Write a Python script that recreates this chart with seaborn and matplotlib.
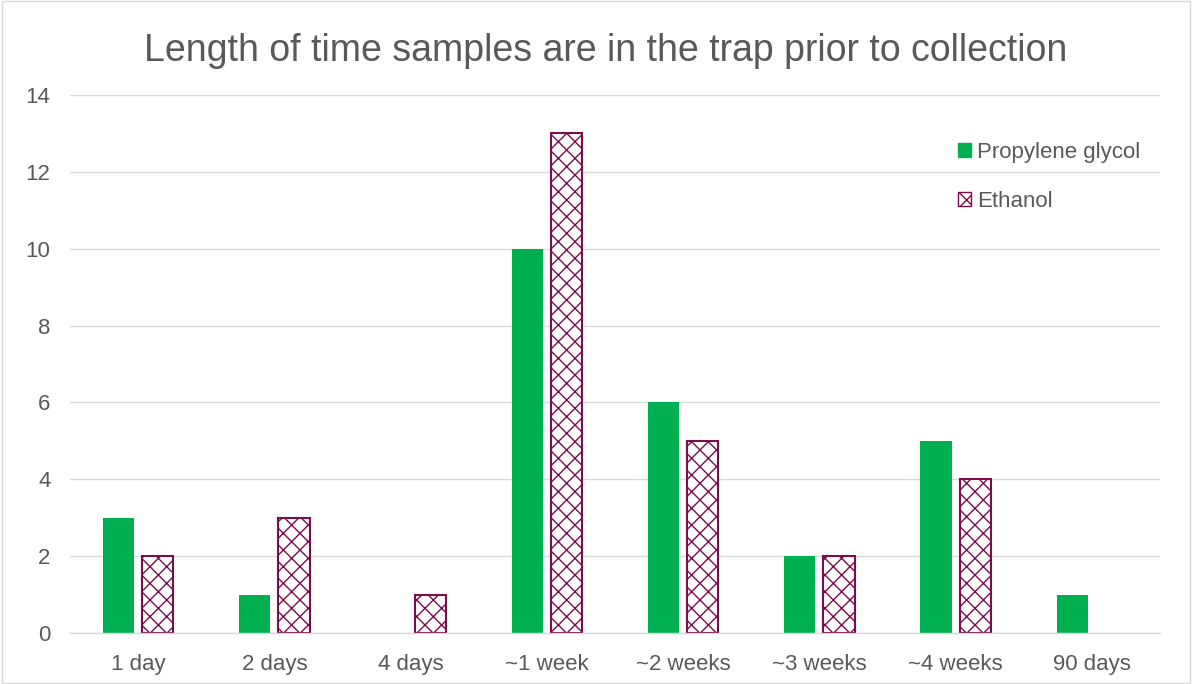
import pandas as pd
import matplotlib.pyplot as plt
import seaborn as sns
from matplotlib.patches import Patch, Rectangle

# Daten
kategorien = ['1 day', '2 days', '4 days', '~1 week', '~2 weeks', '~3 weeks', '~4 weeks', '90 days']
propylene_glycol = [3, 1, 0, 10, 6, 2, 5, 1]
ethanol = [2, 3, 1, 13, 5, 2, 4, 0]

df = pd.DataFrame({
    'Kategorie': kategorien * 2,
    'Wert': propylene_glycol + ethanol,
    'Serie': ['Propylene glycol'] * len(kategorien) + ['Ethanol'] * len(kategorien),
})

sns.set_theme(style="white")
plt.rcParams['font.family'] = ['Liberation Sans', 'DejaVu Sans']
plt.rcParams['hatch.linewidth'] = 1.0

grau = '#595959'
gruen = '#00B050'
lila = '#7B0C4D'

fig = plt.figure(figsize=(11.92, 6.84), dpi=100)
ax = fig.add_axes([70 / 1192, 51 / 684, 1090 / 1192, 538 / 684])

sns.barplot(data=df, x='Kategorie', y='Wert', hue='Serie', order=kategorien,
            hue_order=['Propylene glycol', 'Ethanol'],
            palette=[gruen, 'white'], width=0.574, gap=0.2, ax=ax, legend=False,
            saturation=1)

# Ethanol-Balken schraffieren, leere Balken ausblenden
for bar in ax.containers[1]:
    bar.set_facecolor('white')
    bar.set_edgecolor(lila)
    bar.set_hatch('xx')
    bar.set_linewidth(1.5)
for cont in ax.containers:
    for bar in cont:
        if bar.get_height() == 0:
            bar.set_visible(False)
for bar in ax.containers[0]:
    bar.set_linewidth(0)

ax.set_ylim(0, 14)
ax.set_yticks(range(0, 15, 2))
ax.set_xlim(-0.5, len(kategorien) - 0.5)
ax.yaxis.grid(True, color='#D9D9D9', linewidth=1)
ax.set_axisbelow(True)
for s in ['top', 'right', 'left']:
    ax.spines[s].set_visible(False)
ax.spines['bottom'].set_color('#D9D9D9')
ax.spines['bottom'].set_linewidth(1)
ax.tick_params(axis='both', length=0, labelsize=16, labelcolor=grau)
ax.tick_params(axis='x', pad=15)
ax.tick_params(axis='y', pad=14)
ax.set_xlabel('')
ax.set_ylabel('')

fig.suptitle('Length of time samples are in the trap prior to collection',
             fontsize=27, color=grau, x=0.508, y=0.952)

handles = [Patch(facecolor=gruen, edgecolor=gruen, label='Propylene glycol'),
           Patch(facecolor='white', edgecolor=lila, hatch='xx', label='Ethanol')]
ax.legend(handles=handles, loc='upper right', bbox_to_anchor=(1.0, 0.95),
          frameon=False, fontsize=16, labelcolor=grau, handlelength=0.6,
          handleheight=0.6, handletextpad=0.25, labelspacing=1.25)

# Rahmen um die Abbildung
fig.patches.append(Rectangle((0.002, 0.002), 0.996, 0.996, transform=fig.transFigure,
                             fill=False, edgecolor='#D9D9D9', linewidth=1))

fig.savefig('out.png', dpi=100)
